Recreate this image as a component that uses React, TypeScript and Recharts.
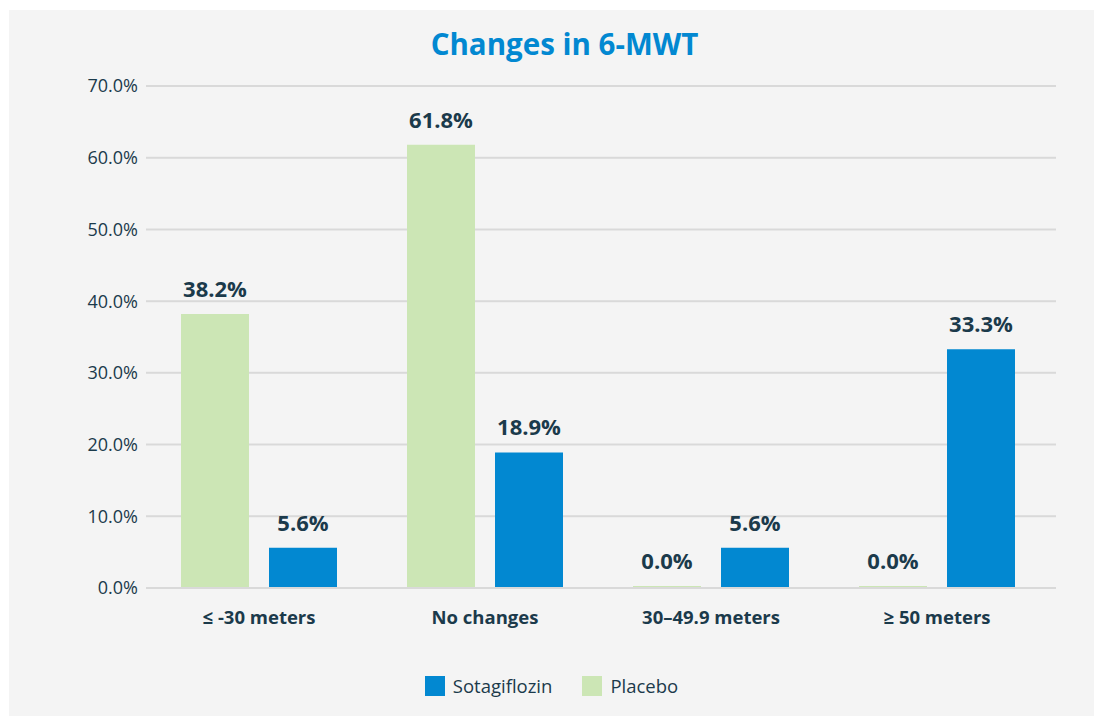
import React from "react";
import {
  BarChart,
  Bar,
  XAxis,
  YAxis,
  CartesianGrid,
  Legend,
  LabelList,
} from "recharts";

const categories = ["≤ -30 meters", "No changes", "30–49.9 meters", "≥ 50 meters"];
const placebo = [38.2, 61.8, 0.0, 0.0];
const sotagiflozin = [5.6, 18.9, 5.6, 33.3];
const yTicks = [0, 10, 20, 30, 40, 50, 60, 70];

const legendItems = [
  { name: "Sotagiflozin", color: "#0288d1" },
  { name: "Placebo", color: "#cce6b5" },
];

const data = categories.map((name, i) => ({
  name,
  placebo: placebo[i],
  sotagiflozin: sotagiflozin[i],
}));

const FONT = "'Open Sans', sans-serif";
const TEXT = "#1b3a4b";

const renderLegend = () => (
  <div
    style={{
      display: "flex",
      justifyContent: "center",
      alignItems: "center",
      fontFamily: FONT,
      fontSize: 18.5,
      color: TEXT,
    }}
  >
    {legendItems.map((it, i) => (
      <div
        key={it.name}
        style={{ display: "flex", alignItems: "center", marginLeft: i ? 30 : 0 }}
      >
        <span
          style={{ width: 20, height: 20, background: it.color, marginRight: 8, display: "inline-block" }}
        />
        <span>{it.name}</span>
      </div>
    ))}
  </div>
);

export const App = () => {
  return (
    <div
      style={{
        position: "absolute",
        left: 9,
        top: 10,
        width: 1085,
        height: 706,
        background: "#f4f4f4",
        fontFamily: FONT,
      }}
    >
      <div
        style={{
          position: "absolute",
          top: 14,
          left: 0,
          width: 1111,
          textAlign: "center",
          fontSize: 29.5,
          fontWeight: 700,
          color: "#0288d1",
          lineHeight: "40px",
        }}
      >
        Changes in 6-MWT
      </div>
      <BarChart
        width={1085}
        height={706}
        data={data}
        barSize={68}
        barGap={20}
        margin={{ top: 76, right: 38, left: 0, bottom: 90 }}
      >
        <CartesianGrid vertical={false} stroke="#d9d9d9" strokeWidth={2} />
        <XAxis
          dataKey="name"
          axisLine={{ stroke: "#d9d9d9", strokeWidth: 2 }}
          tickLine={false}
          tickMargin={17}
          padding={{ left: 0, right: 6 }}
          height={38}
          tick={{ fill: TEXT, fontSize: 18.5, fontWeight: 700, fontFamily: FONT }}
        />
        <YAxis
          width={137}
          domain={[0, 70]}
          ticks={yTicks}
          axisLine={false}
          tickLine={false}
          tickFormatter={(v: number) => `${v.toFixed(1)}%`}
          tick={{ fill: TEXT, fontSize: 18, fontFamily: FONT }}
        />
        <Legend
          verticalAlign="middle"
          layout="horizontal"
          wrapperStyle={{ top: 663, left: 0, width: 1085 }}
          content={renderLegend}
        />
        <Bar dataKey="placebo" name="Placebo" fill="#cce6b5" minPointSize={2} isAnimationActive={false}>
          <LabelList
            dataKey="placebo"
            position="top"
            offset={17}
            formatter={(v: number) => `${v.toFixed(1)}%`}
            style={{ fill: TEXT, fontSize: 22, fontWeight: 700, fontFamily: FONT }}
          />
        </Bar>
        <Bar dataKey="sotagiflozin" name="Sotagiflozin" fill="#0288d1" isAnimationActive={false}>
          <LabelList
            dataKey="sotagiflozin"
            position="top"
            offset={17}
            formatter={(v: number) => `${v.toFixed(1)}%`}
            style={{ fill: TEXT, fontSize: 22, fontWeight: 700, fontFamily: FONT }}
          />
        </Bar>
      </BarChart>
    </div>
  );
};

export default App;
